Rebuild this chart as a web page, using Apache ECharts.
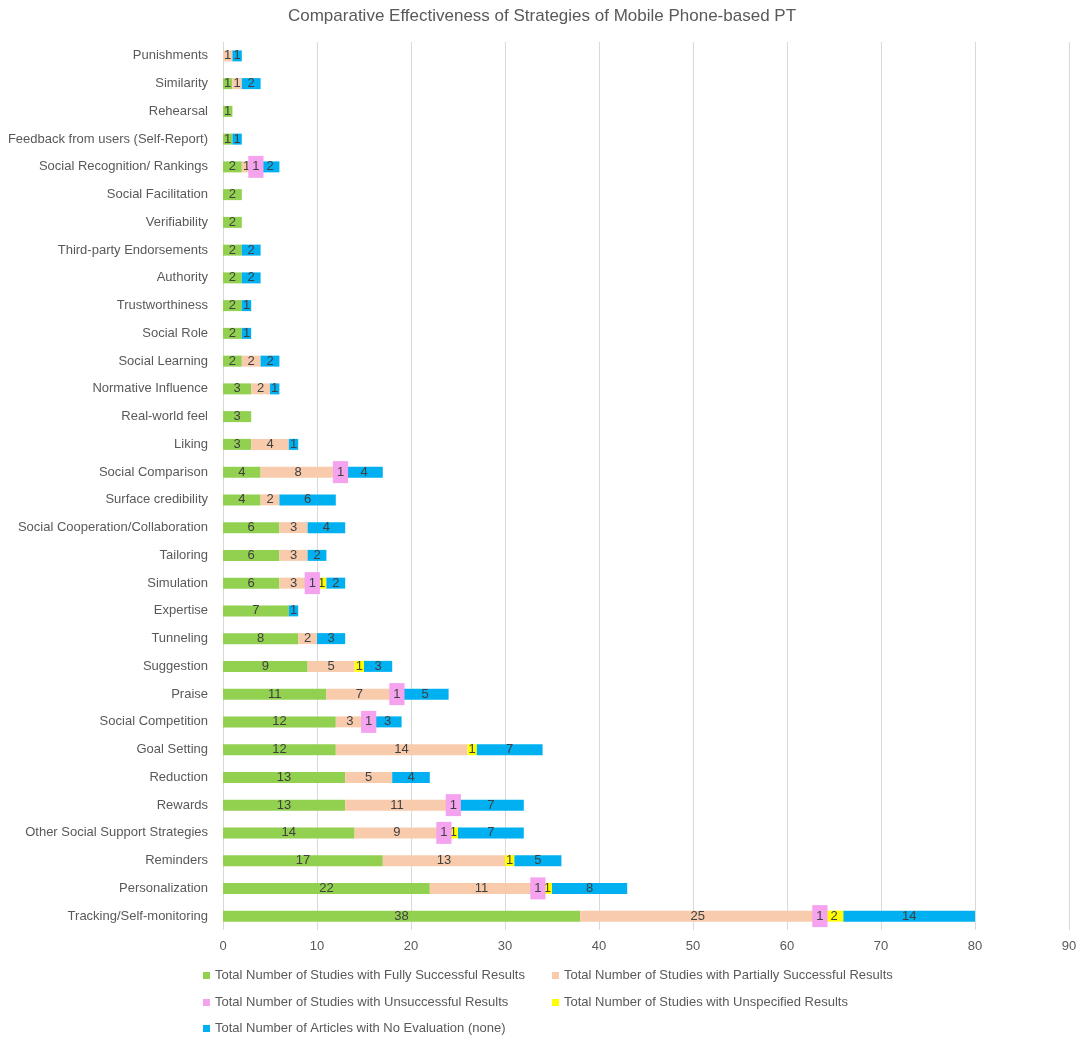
<!DOCTYPE html>
<html>
<head>
<meta charset="utf-8">
<script src="https://cdn.jsdelivr.net/npm/echarts@6/dist/echarts.min.js"></script>
<style>html,body{margin:0;padding:0;background:#fff;}#c{width:1084px;height:1045px;}</style>
</head>
<body>
<div id="c"></div>
<script>
const categories = [
  'Punishments','Similarity','Rehearsal','Feedback from users (Self-Report)','Social Recognition/ Rankings',
  'Social Facilitation','Verifiability','Third-party Endorsements','Authority','Trustworthiness',
  'Social Role','Social Learning','Normative Influence','Real-world feel','Liking',
  'Social Comparison','Surface credibility','Social Cooperation/Collaboration','Tailoring','Simulation',
  'Expertise','Tunneling','Suggestion','Praise','Social Competition',
  'Goal Setting','Reduction','Rewards','Other Social Support Strategies','Reminders',
  'Personalization','Tracking/Self-monitoring'
];
const fullySuccessful   = [0,1,1,1,2,2,2,2,2,2,2,2,3,3,3,4,4,6,6,6,7,8,9,11,12,12,13,13,14,17,22,38];
const partiallySuccess  = [1,1,0,0,1,0,0,0,0,0,0,2,2,0,4,8,2,3,3,3,0,2,5,7,3,14,5,11,9,13,11,25];
const unsuccessful      = [0,0,0,0,1,0,0,0,0,0,0,0,0,0,0,1,0,0,0,1,0,0,0,1,1,0,0,1,1,0,1,1];
const unspecified       = [0,0,0,0,0,0,0,0,0,0,0,0,0,0,0,0,0,0,0,1,0,0,1,0,0,1,0,0,1,1,1,2];
const noEvaluation      = [1,2,0,1,2,0,0,2,2,1,1,2,1,0,1,4,6,4,2,2,1,3,3,5,3,7,4,7,7,5,8,14];
const seriesNames = [
  'Total Number of Studies with Fully Successful Results',
  'Total Number of Studies with Partially Successful Results',
  'Total Number of Studies with Unsuccessful Results',
  'Total Number of Studies with Unspecified Results',
  'Total Number of Articles with No Evaluation (none)'
];
const xTicks = [0,10,20,30,40,50,60,70,80,90];

const colors = ['#92D050','#F8CBAD','#F5A3EF','#FFFF00','#00B0F0'];
const values = [fullySuccessful, partiallySuccess, unsuccessful, unspecified, noEvaluation];
const FONT = '"Liberation Sans", Arial, sans-serif';
const TXT = '#595959';

const series = values.map((arr, i) => ({
  name: seriesNames[i],
  type: 'bar',
  stack: 'total',
  barWidth: 11,
  itemStyle: { color: colors[i] },
  data: arr.map(v => v === 0 ? null : v),
  z: i === 2 ? 5 : 2,
  label: Object.assign({
    show: true,
    position: 'inside',
    color: '#404040',
    fontSize: 13,
    fontFamily: FONT
  }, i === 2 ? { backgroundColor: '#F5A3EF', padding: [4, 4], lineHeight: 14 } : {})
}));

const legendPos = [
  { left: 203, top: 969 },
  { left: 552, top: 969 },
  { left: 203, top: 996 },
  { left: 552, top: 996 },
  { left: 203, top: 1022 }
];

const chart = echarts.init(document.getElementById('c'));
chart.setOption({
  backgroundColor: '#fff',
  animation: false,
  color: colors,
  title: {
    text: 'Comparative Effectiveness of Strategies of Mobile Phone-based PT',
    left: 'center',
    top: 3,
    textStyle: { fontFamily: FONT, fontSize: 17, fontWeight: 'normal', color: TXT }
  },
  legend: legendPos.map((p, i) => ({
    data: [seriesNames[i]],
    left: p.left,
    top: p.top,
    padding: 0,
    icon: 'rect',
    itemWidth: 7,
    itemHeight: 7,
    itemGap: 0,
    textStyle: { fontFamily: FONT, fontSize: 13, color: TXT },
    selectedMode: false
  })),
  grid: { left: 223, right: 15, top: 42, bottom: 115, containLabel: false },
  xAxis: {
    type: 'value',
    min: xTicks[0],
    max: xTicks[xTicks.length - 1],
    interval: 10,
    axisLine: { show: false },
    axisTick: { show: false },
    splitLine: { lineStyle: { color: '#D9D9D9', width: 1 } },
    axisLabel: { color: TXT, fontFamily: FONT, fontSize: 13, margin: 10 }
  },
  yAxis: {
    type: 'category',
    inverse: true,
    data: categories,
    axisLine: { show: false },
    axisTick: { show: false },
    axisLabel: { color: TXT, fontFamily: FONT, fontSize: 13, margin: 15 }
  },
  series: series
});
</script>
</body>
</html>
